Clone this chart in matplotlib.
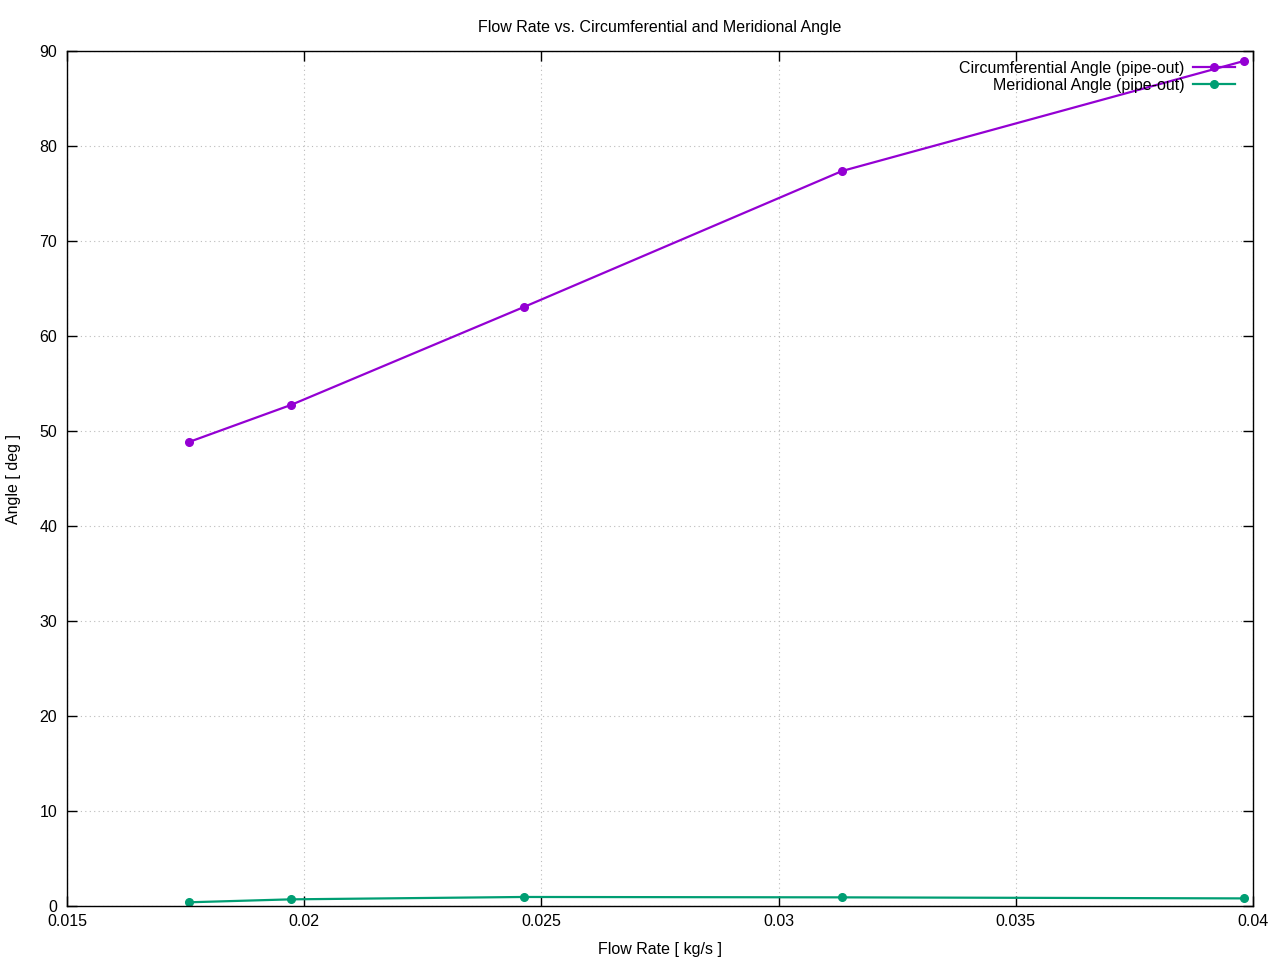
import matplotlib.pyplot as plt

plt.rcParams['font.family'] = ['Liberation Sans', 'DejaVu Sans']

flow_rate = [0.01757, 0.01972, 0.02463, 0.03134, 0.03981]
circ_angle = [48.84, 52.74, 63.05, 77.37, 88.95]
merid_angle = [0.39, 0.70, 0.95, 0.91, 0.80]


def main():
    fig = plt.figure(figsize=(12.8, 9.6), dpi=100)
    ax = fig.add_axes([67 / 1280, 54 / 960, 1186 / 1280, 855 / 960])

    ax.plot(flow_rate, circ_angle, color='#9400d3', lw=1.6, marker='o', ms=5.5,
            label='Circumferential Angle (pipe-out)')
    ax.plot(flow_rate, merid_angle, color='#009e73', lw=1.6, marker='o', ms=5.5,
            label='Meridional Angle (pipe-out)')

    ax.set_xlim(0.015, 0.04)
    ax.set_ylim(0, 90)
    ax.set_xticks([0.015, 0.02, 0.025, 0.03, 0.035, 0.04])
    ax.set_xticklabels(['0.015', '0.02', '0.025', '0.03', '0.035', '0.04'])
    ax.set_yticks(range(0, 91, 10))

    fs = 11.5
    ax.tick_params(direction='in', top=True, right=True, length=7, width=1,
                   labelsize=fs)
    ax.tick_params(axis='x', pad=6)
    ax.tick_params(axis='y', pad=7)
    ax.grid(True, color='#bbbbbb', linestyle=(0, (1, 3)), lw=0.8)
    for s in ax.spines.values():
        s.set_linewidth(1)

    ax.set_xlabel('Flow Rate [ kg/s ]', fontsize=fs, labelpad=9)
    ax.set_ylabel('Angle [ deg ]', fontsize=fs, labelpad=13)
    ax.set_title('Flow Rate vs. Circumferential and Meridional Angle',
                 fontsize=fs, pad=14)

    ax.legend(loc='upper right', bbox_to_anchor=(1 - 10 / 1186, 1 - 2 / 855),
              frameon=False, markerfirst=False, fontsize=fs,
              handlelength=2.6, handletextpad=0.55, labelspacing=0.12,
              borderaxespad=0.2, borderpad=0.3)

    plt.savefig('out.png')


main()
